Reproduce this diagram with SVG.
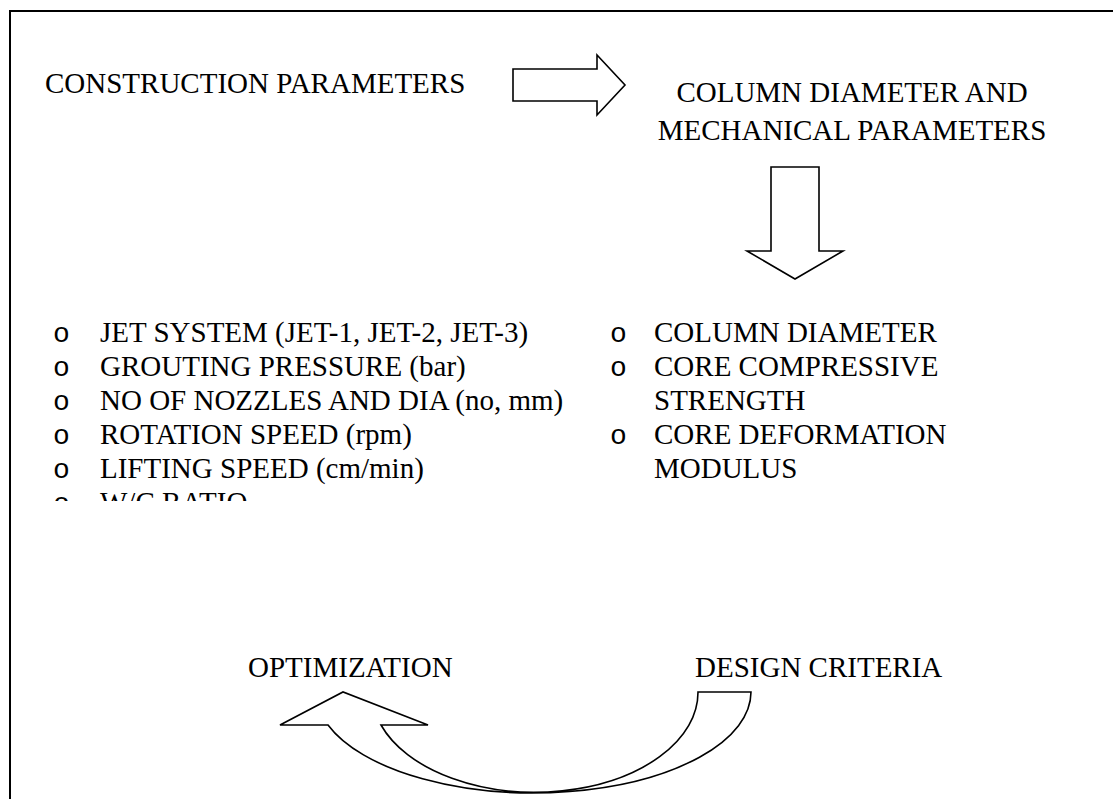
<svg xmlns="http://www.w3.org/2000/svg" width="1113" height="799" viewBox="0 0 1113 799">
  <style>
    .t { font-family: "Liberation Serif", "Times New Roman", serif; font-size: 29px; fill: #000; }
    .b { font-family: "Liberation Mono", "Courier New", monospace; font-size: 28px; fill: #000; }
    .shape { fill: #fff; stroke: #000; stroke-width: 1.6; stroke-linejoin: miter; }
    .frame { fill: none; stroke: #000; stroke-width: 2; }
  </style>
  <defs>
    <!-- the left text box is shorter than its content, so its last line is cut -->
    <clipPath id="leftBoxClip">
      <rect x="20" y="300" width="600" height="201"/>
    </clipPath>
  </defs>
  <rect x="0" y="0" width="1113" height="799" fill="#fff"/>

  <!-- page frame: top and left border only -->
  <polyline class="frame" points="10,799 10,11 1113,11"/>

  <g id="construction-parameters">
    <text class="t" x="45" y="93">CONSTRUCTION PARAMETERS</text>
  </g>

  <g id="column-diameter">
    <text class="t" x="852" y="102" text-anchor="middle">COLUMN DIAMETER AND</text>
    <text class="t" x="852" y="140" text-anchor="middle">MECHANICAL PARAMETERS</text>
  </g>

  <g id="construction-list" clip-path="url(#leftBoxClip)">
    <text class="b" x="53" y="342">o</text>
    <text class="t" x="100" y="342">JET SYSTEM (JET-1, JET-2, JET-3)</text>
    <text class="b" x="53" y="376">o</text>
    <text class="t" x="100" y="376">GROUTING PRESSURE (bar)</text>
    <text class="b" x="53" y="410">o</text>
    <text class="t" x="100" y="410">NO OF NOZZLES AND DIA (no, mm)</text>
    <text class="b" x="53" y="444">o</text>
    <text class="t" x="100" y="444">ROTATION SPEED (rpm)</text>
    <text class="b" x="53" y="478">o</text>
    <text class="t" x="100" y="478">LIFTING SPEED (cm/min)</text>
    <text class="b" x="53" y="512">o</text>
    <text class="t" x="100" y="512">W/C RATIO</text>
  </g>

  <g id="mechanical-list">
    <text class="b" x="610" y="342">o</text>
    <text class="t" x="654" y="342">COLUMN DIAMETER</text>
    <text class="b" x="610" y="376">o</text>
    <text class="t" x="654" y="376">CORE COMPRESSIVE</text>
    <text class="t" x="654" y="410">STRENGTH</text>
    <text class="b" x="610" y="444">o</text>
    <text class="t" x="654" y="444">CORE DEFORMATION</text>
    <text class="t" x="654" y="478">MODULUS</text>
  </g>

  <g id="optimization">
    <text class="t" x="248" y="677">OPTIMIZATION</text>
  </g>

  <g id="design-criteria">
    <text class="t" x="695" y="677">DESIGN CRITERIA</text>
  </g>

  <g id="connectors">
    <!-- block arrow right -->
    <polygon class="shape" points="513,69 597,69 597,55 625,85 597,115 597,101 513,101"/>
    <!-- block arrow down -->
    <polygon class="shape" points="771,167 819,167 819,251 843,251 795,279 747,251 771,251"/>
    <!-- curved up arrow from design criteria back to optimization -->
    <path class="shape" d="M698,692 L751,692 A217.5 101 0 0 1 328,725 L280,725 L343,692 L428,725 L381,725 A163 100 0 0 0 698,692 Z"/>
  </g>
</svg>
